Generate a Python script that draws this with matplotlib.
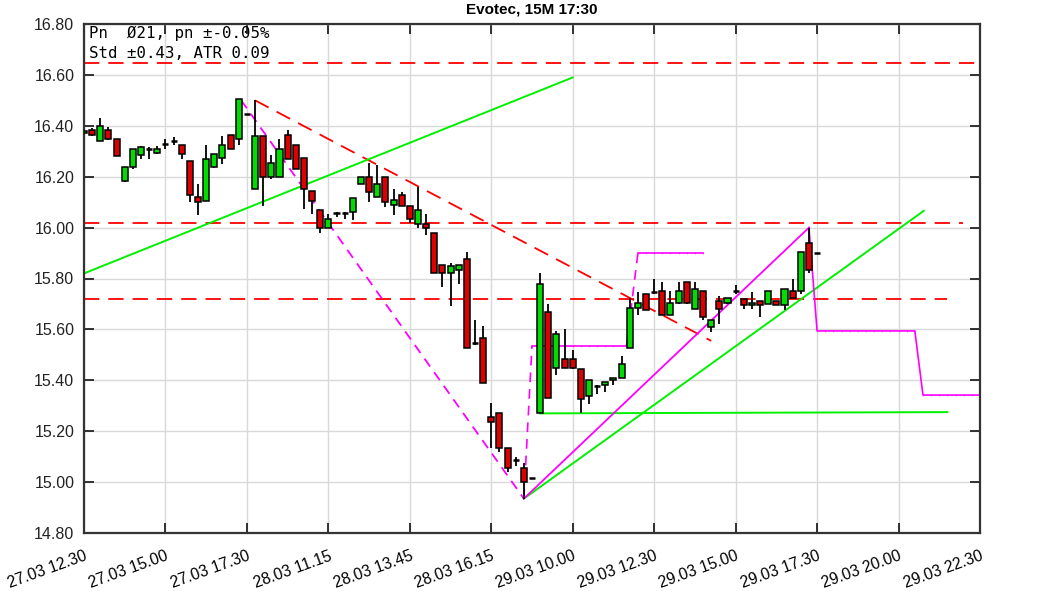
import matplotlib
matplotlib.use("Agg")
import matplotlib.pyplot as plt
import numpy as np

plt.rcParams['lines.scale_dashes'] = False

# ---- data (15-minute candles, bar index 0..90) ----
opens = [16.37, 16.385, 16.34, 16.385, 16.35, 16.185, 16.24, 16.285, 16.31, 16.295,
         16.325, 16.34, 16.325, 16.26, 16.12, 16.105, 16.24, 16.275, 16.365, 16.35,
         16.445, 16.15, 16.36, 16.20, 16.20, 16.365, 16.325, 16.275, 16.145, 16.07,
         16.00, 16.06, 16.06, 16.06, 16.17, 16.20, 16.12, 16.20, 16.09, 16.13,
         16.085, 16.015, 16.015, 15.98, 15.855, 15.82, 15.835, 15.875, 15.55, 15.565,
         15.255, 15.27, 15.135, 15.09, 15.055, 15.015, 15.27, 15.67, 15.45, 15.485,
         15.485, 15.445, 15.34, 15.375, 15.38, 15.40, 15.41, 15.525, 15.685, 15.74,
         15.75, 15.75, 15.655, 15.705, 15.785, 15.68, 15.75, 15.61, 15.71, 15.705,
         15.75, 15.72, 15.695, 15.71, 15.70, 15.71, 15.695, 15.75, 15.75, 15.94,
         15.90]
highs = [16.385, 16.39, 16.43, 16.395, 16.35, 16.24, 16.31, 16.32, 16.315, 16.32,
         16.35, 16.355, 16.325, 16.26, 16.17, 16.325, 16.29, 16.36, 16.365, 16.505,
         16.445, 16.50, 16.36, 16.285, 16.35, 16.385, 16.325, 16.275, 16.145, 16.07,
         16.055, 16.06, 16.06, 16.115, 16.20, 16.255, 16.245, 16.20, 16.15, 16.14,
         16.085, 16.16, 16.055, 15.98, 15.855, 15.86, 15.855, 15.905, 15.635, 15.615,
         15.31, 15.27, 15.135, 15.10, 15.075, 15.015, 15.82, 15.70, 15.595, 15.60,
         15.52, 15.445, 15.40, 15.38, 15.395, 15.41, 15.495, 15.725, 15.745, 15.74,
         15.80, 15.785, 15.75, 15.785, 15.785, 15.785, 15.75, 15.635, 15.73, 15.725,
         15.775, 15.72, 15.745, 15.71, 15.75, 15.71, 15.76, 15.80, 15.905, 16.00,
         15.90]
lows = [16.37, 16.36, 16.34, 16.345, 16.28, 16.18, 16.23, 16.27, 16.27, 16.29,
        16.31, 16.325, 16.27, 16.10, 16.05, 16.105, 16.235, 16.25, 16.31, 16.325,
        16.445, 16.15, 16.085, 16.19, 16.20, 16.27, 16.23, 16.075, 16.055, 15.98,
        16.00, 16.04, 16.035, 16.03, 16.17, 16.10, 16.12, 16.08, 16.05, 16.085,
        16.02, 16.00, 15.97, 15.82, 15.765, 15.69, 15.78, 15.525, 15.54, 15.39,
        15.135, 15.12, 15.04, 15.065, 14.935, 15.015, 15.27, 15.33, 15.42, 15.45,
        15.445, 15.27, 15.305, 15.345, 15.355, 15.38, 15.41, 15.525, 15.655, 15.675,
        15.74, 15.655, 15.655, 15.70, 15.70, 15.68, 15.635, 15.59, 15.62, 15.70,
        15.74, 15.68, 15.68, 15.65, 15.70, 15.695, 15.675, 15.725, 15.74, 15.82,
        15.90]
closes = [16.38, 16.365, 16.40, 16.35, 16.28, 16.24, 16.31, 16.315, 16.305, 16.31,
          16.33, 16.34, 16.29, 16.13, 16.10, 16.27, 16.29, 16.325, 16.31, 16.505,
          16.445, 16.36, 16.20, 16.255, 16.31, 16.27, 16.23, 16.15, 16.105, 16.00,
          16.035, 16.055, 16.055, 16.115, 16.20, 16.14, 16.17, 16.10, 16.11, 16.085,
          16.035, 16.07, 16.00, 15.82, 15.82, 15.85, 15.855, 15.525, 15.545, 15.39,
          15.235, 15.135, 15.055, 15.085, 15.00, 15.015, 15.78, 15.33, 15.58, 15.45,
          15.45, 15.325, 15.40, 15.38, 15.395, 15.41, 15.465, 15.685, 15.705, 15.675,
          15.745, 15.655, 15.705, 15.75, 15.705, 15.76, 15.65, 15.635, 15.68, 15.725,
          15.75, 15.695, 15.705, 15.695, 15.75, 15.695, 15.76, 15.725, 15.905, 15.835,
          15.90]

tick_labels = ["27.03 12.30", "27.03 15.00", "27.03 17.30", "28.03 11.15",
               "28.03 13.45", "28.03 16.15", "29.03 10.00", "29.03 12.30",
               "29.03 15.00", "29.03 17.30", "29.03 20.00", "29.03 22.30"]
y_ticks = [14.8, 15.0, 15.2, 15.4, 15.6, 15.8, 16.0, 16.2, 16.4, 16.6, 16.8]

# horizontal levels (value, last bar)
level_values = [16.645, 16.02, 15.72]
level_ends = [110, 107.9, 106]

# trend lines (bar, price)
red_trend_x = [21, 77]
red_trend_y = [16.50, 15.555]
green_up1_x = [0, 60]
green_up1_y = [15.82, 16.59]
green_up2_x = [54, 103.1]
green_up2_y = [14.935, 16.066]
green_flat_x = [56, 106]
green_flat_y = [15.27, 15.275]
mag_down_x = [19.3, 54]
mag_down_y = [16.50, 14.935]
mag_up_x = [54, 89]
mag_up_y = [14.935, 16.00]
step1_x = [54, 55, 66.6, 68, 76]
step1_y = [14.935, 15.535, 15.535, 15.90, 15.90]
step2_x = [89, 90, 102, 103, 110]
step2_y = [16.00, 15.594, 15.594, 15.342, 15.342]

info_line1 = "Pn  Ø21, pn ±-0.05%"
info_line2 = "Std ±0.43, ATR 0.09"
title = "Evotec, 15M 17:30"

# ---- figure ----
W, H = 1063, 591
fig = plt.figure(figsize=(W / 100, H / 100), dpi=100)
L, R, T, B = 84, 980, 24, 533
ax = fig.add_axes([L / W, 1 - B / H, (R - L) / W, (B - T) / H])

GREEN = '#00dc00'
RED = '#dc0000'
MAG = '#ff00ff'
LGREEN = '#00f000'
REDL = '#ff0000'

n = len(opens)
xs = np.arange(n)

# overlay lines (below candles)
red_dash = (0, (11, 6.5))
for v, e in zip(level_values, level_ends):
    ax.plot([0, e], [v, v], color=REDL, lw=1.3, linestyle=red_dash, zorder=2)
ax.plot(red_trend_x, red_trend_y, color=REDL, lw=1.3, linestyle=red_dash, zorder=2)

ax.plot(green_up1_x, green_up1_y, color=LGREEN, lw=1.4, zorder=2)
ax.plot(green_up2_x, green_up2_y, color=LGREEN, lw=1.4, zorder=2)
ax.plot(green_flat_x, green_flat_y, color=LGREEN, lw=1.4, zorder=2)

mag_dash = (0, (7, 5))
ax.plot(mag_down_x, mag_down_y, color=MAG, lw=1.3, linestyle=mag_dash, zorder=2)
ax.plot(mag_up_x, mag_up_y, color=MAG, lw=1.3, zorder=2)

# step 1: sloped parts dashed, flat parts solid
for k in range(len(step1_x) - 1):
    xa, xb = step1_x[k], step1_x[k + 1]
    ya, yb = step1_y[k], step1_y[k + 1]
    ls = '-' if ya == yb else mag_dash
    ax.plot([xa, xb], [ya, yb], color=MAG, lw=1.2, linestyle=ls, zorder=2)
ax.plot(step2_x, step2_y, color=MAG, lw=1.2, zorder=2)

# small tick markers on flat magenta segments
for sx, sy in ((step1_x, step1_y), (step2_x, step2_y)):
    for k in range(len(sx) - 1):
        if sy[k] == sy[k + 1]:
            mx = np.arange(np.ceil(sx[k]), np.floor(sx[k + 1]) + 1)
            ax.plot(mx, [sy[k]] * len(mx), linestyle='none', marker='|',
                    ms=2, mew=0.4, color=MAG, alpha=0.8, zorder=2)

# candles
o = np.array(opens); h = np.array(highs); l = np.array(lows); c = np.array(closes)
ax.vlines(xs, l, h, color='black', lw=1.3, zorder=3)
body_lo = np.minimum(o, c)
body_h = np.abs(c - o)
colors = [GREEN if cc > oo else (RED if cc < oo else 'black') for oo, cc in zip(o, c)]
width = 0.74
for i in range(n):
    if body_h[i] < 0.008:
        ax.hlines((o[i] + c[i]) / 2, i - width / 2, i + width / 2, color='black',
                  lw=1.8, zorder=4)
    else:
        ax.bar(i, body_h[i], bottom=body_lo[i], width=width, color=colors[i],
               edgecolor='black', linewidth=1.1, zorder=4)

# axes styling
ax.set_xlim(0, 110)
ax.set_ylim(14.8, 16.8)
ax.set_xticks(np.arange(0, 111, 10))
ax.set_xticklabels(tick_labels, rotation=20, ha='right', va='top',
                   rotation_mode='anchor', fontsize=11.3, family='Liberation Sans')
ax.set_yticks(y_ticks)
ax.set_yticklabels([f"{v:.2f}" for v in y_ticks], fontsize=11.5,
                   family='Liberation Sans', color='#222222')
ax.tick_params(axis='both', direction='in', length=7, width=1.3, color='#222222',
               top=True, right=True, labeltop=False, labelright=False)
ax.tick_params(axis='y', pad=7)
ax.tick_params(axis='x', pad=11)
ax.grid(True, color='#d9d9d9', lw=1.0, zorder=0)
ax.set_axisbelow(True)
for s in ax.spines.values():
    s.set_color('#333333')
    s.set_linewidth(1.6)

# info text
ax.text((89 - L) / (R - L), (B - 38) / (B - T), info_line1, transform=ax.transAxes,
        family='DejaVu Sans Mono', fontsize=11.3, va='baseline', ha='left', zorder=6)
ax.text((89 - L) / (R - L), (B - 58) / (B - T), info_line2, transform=ax.transAxes,
        family='DejaVu Sans Mono', fontsize=11.3, va='baseline', ha='left', zorder=6)

fig.text((L + R) / 2 / W, 1 - 10 / H, title, ha='center', va='center',
         fontsize=11, fontweight='bold', family='Liberation Sans')

fig.savefig("out.png", dpi=100)
